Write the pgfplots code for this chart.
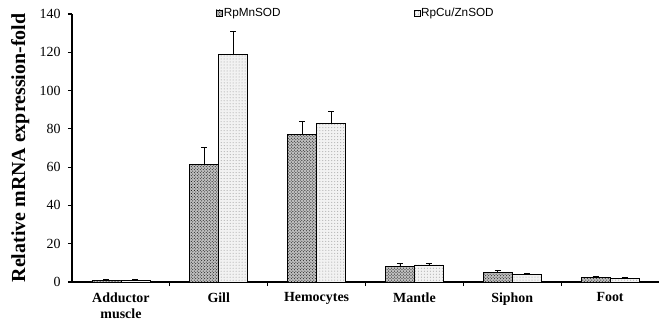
\documentclass[border=0pt]{standalone}
\usepackage{pgfplots}
\pgfplotsset{compat=1.18}
\usetikzlibrary{patterns}
\usepackage{fontspec}
\setmainfont{Liberation Serif}
\newfontfamily\legfont{Liberation Sans}
\begin{document}
\begin{tikzpicture}
\begin{axis}[
  width=587bp, height=268bp, scale only axis,
  xmin=-0.5, xmax=5.5, ymin=0, ymax=140,
  axis lines*=left,
  axis line style={line width=1.3bp, black},
  ybar=0pt, bar width=29bp,
  ytick={0,20,...,140},
  tick align=outside,
  major tick length=4bp,
  tick style={line width=1.2bp, black},
  /pgf/number format/assume math mode=true,
  y tick label style={font=\fontsize{14}{16}\selectfont, xshift=-4bp},
  xtick={0,...,5},
  xticklabels={{Adductor\\muscle},Gill,Hemocytes,Mantle,Siphon,Foot},
  x tick label style={font=\bfseries\fontsize{14}{16}\selectfont, align=center, yshift=-3bp},
  major x tick style={draw=none},
  extra x ticks={0.5,1.5,2.5,3.5,4.5},
  extra x tick labels={},
  extra x tick style={major x tick style={draw=black, line width=1.2bp}, major tick length=4bp},
  ylabel={Relative mRNA expression-fold},
  ylabel style={font=\bfseries\fontsize{20}{22}\selectfont, at={(axis description cs:-0.088,0.5)}, anchor=center},
  legend style={at={(axis description cs:0.2453,1.004)}, anchor=west, draw=none, fill=none,
    inner xsep=0pt, nodes={inner sep=1bp},
    legend columns=2, font=\legfont\fontsize{11.8}{13}\selectfont,
    /tikz/every even column/.append style={column sep=132bp}},
  legend image code/.code={\draw[#1] (0bp,-3bp) rectangle (6bp,3bp);},
  error bars/error bar style={black, line width=0.8bp},
  error bars/error mark=-,
  error bars/error mark options={rotate=90, black, line width=0.8bp, mark size=3bp},
]
\addplot[draw=black, line width=0.6bp, fill=gray!50, postaction={pattern=crosshatch dots, pattern color=black},
  error bars/.cd, y dir=plus, y explicit]
  coordinates {
    (0,1.0) +- (0,0.2)
    (1,61.5) +- (0,8.7)
    (2,77.2) +- (0,6.6)
    (3,8.0) +- (0,1.9)
    (4,4.9) +- (0,1.0)
    (5,2.6) +- (0,0.5)
  };
\addplot[draw=black, line width=0.6bp, fill=gray!10, postaction={pattern=dots, pattern color=gray!80},
  error bars/.cd, y dir=plus, y explicit]
  coordinates {
    (0,1.0) +- (0,0.2)
    (1,119.1) +- (0,11.7)
    (2,82.9) +- (0,6.1)
    (3,8.9) +- (0,0.7)
    (4,3.8) +- (0,0.7)
    (5,1.8) +- (0,0.4)
  };
\legend{RpMnSOD, RpCu/ZnSOD}
\coordinate (ll) at (rel axis cs:0,0);
\coordinate (ur) at (rel axis cs:1,1);
\end{axis}
\pgfresetboundingbox
\path ([shift={(-72bp,-40bp)}]ll) rectangle ([shift={(0bp,14bp)}]ur);
\end{tikzpicture}
\end{document}
